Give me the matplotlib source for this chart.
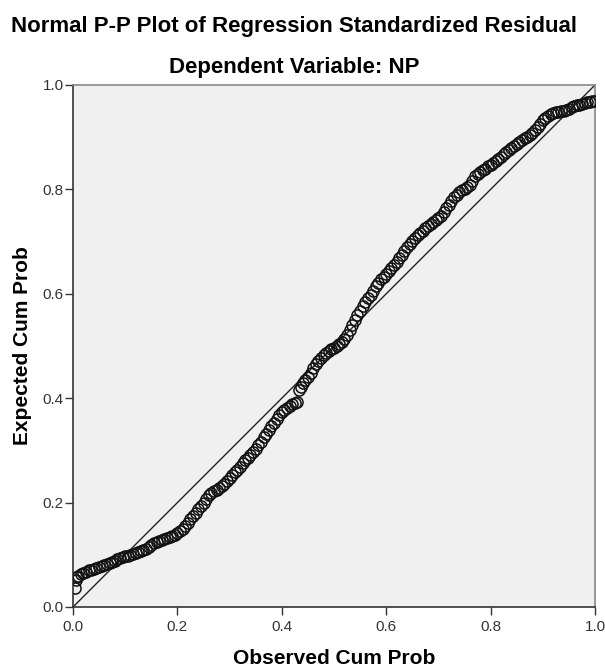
import matplotlib
matplotlib.use('Agg')
import matplotlib.pyplot as plt

# observed cum prob / expected cum prob
observed = [0.003, 0.006, 0.008, 0.010, 0.015, 0.020, 0.025, 0.030, 0.035, 0.040, 0.045,
            0.050, 0.055, 0.060, 0.065, 0.070, 0.075, 0.080, 0.085, 0.090, 0.095,
            0.100, 0.105, 0.110, 0.115, 0.120, 0.125, 0.130, 0.135, 0.140, 0.145,
            0.150, 0.155, 0.160, 0.165, 0.170, 0.175, 0.180, 0.185, 0.190, 0.195,
            0.200, 0.205, 0.210, 0.215, 0.220, 0.225, 0.230, 0.235, 0.240, 0.245,
            0.250, 0.255, 0.260, 0.265, 0.270, 0.275, 0.280, 0.285, 0.290, 0.295,
            0.300, 0.305, 0.310, 0.315, 0.320, 0.325, 0.330, 0.335, 0.340, 0.345,
            0.350, 0.355, 0.360, 0.365, 0.370, 0.375, 0.380, 0.385, 0.390, 0.395,
            0.400, 0.405, 0.410, 0.415, 0.420, 0.425, 0.430,
            0.432, 0.437, 0.440, 0.445,
            0.450, 0.455, 0.460, 0.465, 0.470, 0.475, 0.480, 0.485, 0.490, 0.495,
            0.500, 0.505, 0.510, 0.515, 0.520, 0.525, 0.530, 0.535, 0.540, 0.545,
            0.550, 0.555, 0.560, 0.565, 0.570, 0.575, 0.580, 0.585, 0.590, 0.595,
            0.600, 0.605, 0.610, 0.615, 0.620, 0.625, 0.630, 0.635, 0.640, 0.645,
            0.650, 0.655, 0.660, 0.665, 0.670, 0.675, 0.680, 0.685, 0.690, 0.695,
            0.700, 0.705, 0.710, 0.715, 0.720, 0.725, 0.730, 0.735, 0.740, 0.745,
            0.750, 0.755, 0.760, 0.765, 0.770, 0.775, 0.780, 0.785, 0.790, 0.795,
            0.800, 0.805, 0.810, 0.815, 0.820, 0.825, 0.830, 0.835, 0.840, 0.845,
            0.850, 0.855, 0.860, 0.865, 0.870, 0.875, 0.880, 0.885, 0.890, 0.895,
            0.900, 0.905, 0.910, 0.915, 0.920, 0.925, 0.930, 0.935, 0.940, 0.945,
            0.950, 0.955, 0.960, 0.965, 0.970, 0.975, 0.980, 0.985, 0.990, 0.995,
            1.000]
expected = [0.036, 0.052, 0.058, 0.060, 0.063, 0.065, 0.068, 0.070, 0.071, 0.073, 0.075,
            0.077, 0.078, 0.080, 0.082, 0.084, 0.087, 0.089, 0.091, 0.094, 0.095,
            0.097, 0.098, 0.100, 0.102, 0.104, 0.106, 0.108, 0.110, 0.112, 0.115,
            0.118, 0.122, 0.125, 0.126, 0.128, 0.130, 0.132, 0.134, 0.136, 0.138,
            0.141, 0.145, 0.150, 0.155, 0.161, 0.168, 0.175, 0.181, 0.187, 0.194,
            0.200, 0.207, 0.214, 0.219, 0.222, 0.225, 0.228, 0.232, 0.236, 0.242,
            0.248, 0.253, 0.258, 0.263, 0.268, 0.275, 0.281, 0.286, 0.292, 0.297,
            0.303, 0.310, 0.317, 0.325, 0.332, 0.339, 0.346, 0.353, 0.360, 0.367,
            0.374, 0.378, 0.382, 0.385, 0.388, 0.391, 0.393,
            0.416, 0.422, 0.430, 0.435,
            0.440, 0.449, 0.458, 0.465, 0.472, 0.477, 0.482, 0.486, 0.490, 0.494,
            0.497, 0.500, 0.504, 0.508, 0.513, 0.521, 0.530, 0.540, 0.550, 0.559,
            0.568, 0.576, 0.584, 0.591, 0.598, 0.606, 0.614, 0.621, 0.628, 0.633,
            0.638, 0.644, 0.650, 0.655, 0.661, 0.668, 0.675, 0.682, 0.689, 0.695,
            0.701, 0.707, 0.712, 0.717, 0.721, 0.726, 0.730, 0.734, 0.737, 0.741,
            0.745, 0.750, 0.756, 0.764, 0.771, 0.778, 0.785, 0.790, 0.795, 0.798,
            0.801, 0.804, 0.808, 0.817, 0.825, 0.830, 0.834, 0.837, 0.840, 0.844,
            0.847, 0.851, 0.855, 0.858, 0.862, 0.867, 0.871, 0.875, 0.879, 0.883,
            0.887, 0.891, 0.894, 0.898, 0.901, 0.904, 0.908, 0.914, 0.920, 0.926,
            0.932, 0.937, 0.941, 0.944, 0.946, 0.948, 0.949, 0.950, 0.951, 0.953,
            0.954, 0.957, 0.959, 0.961, 0.962, 0.964, 0.965, 0.967, 0.968, 0.969,
            0.970]
ticks = [0.0, 0.2, 0.4, 0.6, 0.8, 1.0]
tick_labels = ['0.0', '0.2', '0.4', '0.6', '0.8', '1.0']

plt.rcParams['font.family'] = ['Liberation Sans', 'DejaVu Sans']

fig = plt.figure(figsize=(6.05, 6.67), dpi=100)
ax = fig.add_axes([73 / 605, 60 / 667, 522 / 605, 522 / 667])
ax.set_facecolor('#f0f0f0')

ax.plot([0, 1], [0, 1], color='#222222', lw=1.0, zorder=2)
ax.plot(observed, expected, 'o', ms=8, mfc='none', mec='#111111', mew=1.1, zorder=3)

ax.set_xlim(0, 1)
ax.set_ylim(0, 1)
ax.set_xticks(ticks)
ax.set_xticklabels(tick_labels)
ax.set_yticks(ticks)
ax.set_yticklabels(tick_labels)
ax.tick_params(direction='out', length=5.5, width=1, color='#333333',
               labelsize=11, labelcolor='#333333')
ax.tick_params(axis='x', pad=4)
ax.tick_params(axis='y', pad=1)

for s in ['left', 'bottom']:
    ax.spines[s].set_color('#333333')
    ax.spines[s].set_linewidth(1.2)
for s in ['top', 'right']:
    ax.spines[s].set_color('#888888')
    ax.spines[s].set_linewidth(1.2)

ax.set_xlabel('Observed Cum Prob', fontsize=15, fontweight='bold', labelpad=11)
ax.set_ylabel('Expected Cum Prob', fontsize=15, fontweight='bold', labelpad=8)

fig.text(294 / 605, 1 - 32 / 667, 'Normal P-P Plot of Regression Standardized Residual',
         ha='center', va='baseline', fontsize=16, fontweight='bold')
fig.text(294 / 605, 1 - 73 / 667, 'Dependent Variable: NP',
         ha='center', va='baseline', fontsize=16, fontweight='bold')

fig.savefig('out.png', dpi=100)
